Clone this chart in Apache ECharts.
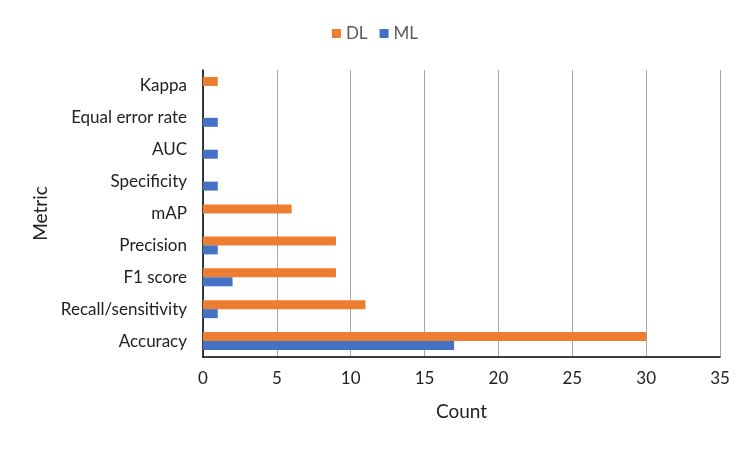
<!DOCTYPE html>
<html>
<head>
<meta charset="utf-8">
<script src="https://cdn.jsdelivr.net/npm/echarts@6/dist/echarts.min.js"></script>
<style>
  html, body { margin: 0; padding: 0; background: #fff; }
  #chart { width: 750px; height: 450px; }
</style>
</head>
<body>
<div id="chart"></div>
<script>
const metrics = ['Accuracy', 'Recall/sensitivity', 'F1 score', 'Precision', 'mAP', 'Specificity', 'AUC', 'Equal error rate', 'Kappa'];
const dlCounts = [30, 11, 9, 9, 6, 0, 0, 0, 1];
const mlCounts = [17, 1, 2, 1, 0, 1, 1, 1, 0];

const font = 'Lato, "Noto Sans", sans-serif';
const myChart = echarts.init(document.getElementById('chart'));
const option = {
  animation: false,
  textStyle: { fontFamily: font },
  color: ['#ED7D31', '#4472C4'],
  legend: {
    data: ['DL', 'ML'],
    top: 20,
    left: 'center',
    itemWidth: 9,
    itemHeight: 9,
    itemGap: 12,
    icon: 'rect',
    textStyle: { color: '#595959', fontSize: 17, fontFamily: font },
  },
  grid: {
    left: 203,
    right: 30,
    top: 70,
    bottom: 93,
  },
  xAxis: {
    type: 'value',
    min: 0,
    max: 35,
    interval: 5,
    name: 'Count',
    nameLocation: 'middle',
    nameGap: 45,
    nameTextStyle: { color: '#222', fontSize: 19, fontFamily: font },
    axisLine: { show: true, lineStyle: { color: '#000', width: 1.5 } },
    axisTick: { show: false },
    axisLabel: { color: '#222', fontSize: 17, margin: 13, fontFamily: font },
    splitLine: { show: true, lineStyle: { color: '#a6a6a6', width: 1 } },
  },
  yAxis: {
    type: 'category',
    data: metrics,
    name: 'Metric',
    nameLocation: 'middle',
    nameGap: 153,
    nameRotate: 90,
    nameTextStyle: { color: '#222', fontSize: 19, fontFamily: font },
    axisLine: { show: true, lineStyle: { color: '#000', width: 1.5 } },
    axisTick: { show: false },
    axisLabel: { color: '#222', fontSize: 17, margin: 16, fontFamily: font },
    splitLine: { show: false },
  },
  series: [
    {
      name: 'DL',
      type: 'bar',
      data: dlCounts,
      barWidth: 9,
      barGap: '0%',
      itemStyle: { color: '#ED7D31' },
    },
    {
      name: 'ML',
      type: 'bar',
      data: mlCounts,
      barWidth: 9,
      barGap: '0%',
      itemStyle: { color: '#4472C4' },
    },
  ],
};
myChart.setOption(option);
</script>
</body>
</html>
